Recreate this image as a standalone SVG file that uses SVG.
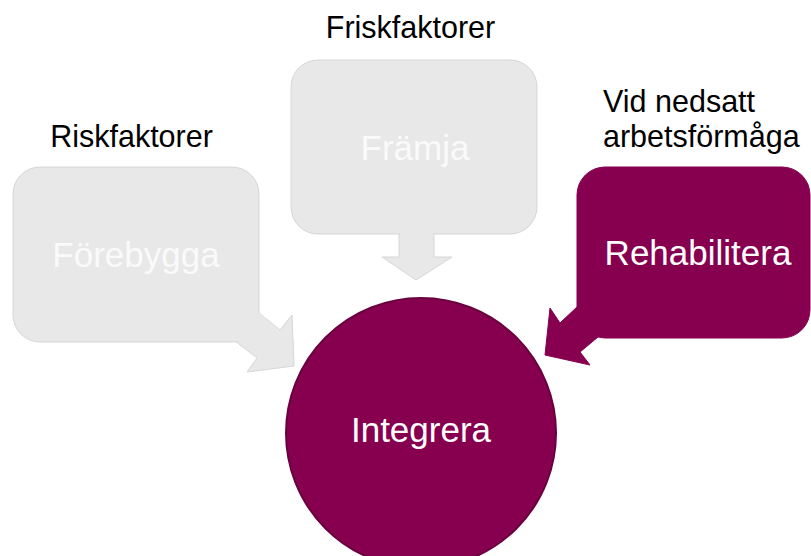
<svg xmlns="http://www.w3.org/2000/svg" width="811" height="556" viewBox="0 0 811 556">
  <style>
    .gray { fill: #e8e8e8; stroke: #d6d6d6; stroke-width: 1; }
    .purple { fill: #870050; stroke: #870050; stroke-width: 1; }
    .inner { font-family: "Liberation Sans", Arial, sans-serif; font-size: 35px; text-anchor: middle; }
    .label { font-family: "Liberation Sans", Arial, sans-serif; font-size: 30.5px; fill: #000; }
  </style>
  <rect width="811" height="556" fill="#ffffff"/>
  <g id="connectors">
    <polygon class="gray" points="258,312 280,330 292,315 294,366 247,372 257,358 235,341"/>
    <polygon class="gray" points="399,233 434,233 434,257 452,257 416,280 382,257 399,257"/>
    <polygon class="purple" points="578,306 560,323 550,308 545,355 590,365 580,352 598,337"/>
  </g>
  <g id="forebygga">
    <rect class="gray" x="13" y="167" width="246" height="175" rx="27" ry="27"/>
    <polygon points="257,311 279,330 256,357 236,340" fill="#e8e8e8"/>
    <text class="inner" x="136" y="267" fill="#fafafa">Förebygga</text>
  </g>
  <g id="framja">
    <rect class="gray" x="291" y="60" width="246" height="174" rx="27" ry="27"/>
    <rect x="400" y="232" width="33" height="4" fill="#e8e8e8"/>
    <text class="inner" x="415" y="160" fill="#fafafa">Främja</text>
  </g>
  <g id="rehabilitera">
    <rect class="purple" x="577" y="167" width="233" height="171" rx="28" ry="28"/>
    <polygon points="579,307 597,337 581,351 561,322" fill="#870050"/>
    <text class="inner" x="698" y="265" fill="#ffffff">Rehabilitera</text>
  </g>
  <g id="integrera">
    <circle cx="421" cy="433" r="135" fill="#870050" stroke="#6a003e" stroke-width="2"/>
    <text class="inner" x="421" y="442" fill="#ffffff">Integrera</text>
  </g>
  <g id="labels">
    <text class="label" x="410.5" y="38" text-anchor="middle">Friskfaktorer</text>
    <text class="label" x="131.5" y="147" text-anchor="middle">Riskfaktorer</text>
    <text class="label" x="603" y="112">Vid nedsatt</text>
    <text class="label" x="603" y="147">arbetsförmåga</text>
  </g>
</svg>
